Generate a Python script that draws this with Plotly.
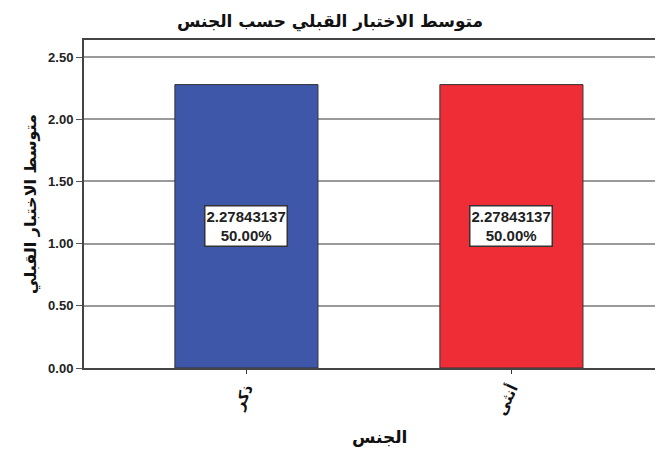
import plotly.graph_objects as go

categories = ["ذكر", "أنثى"]
means = [2.27843137, 2.27843137]
percents = [50.00, 50.00]
colors = ["#3F57A8", "#EE2D37"]

title_text = "متوسط الاختبار القبلي حسب الجنس"
x_title = "الجنس"
y_title = "متوسط الاختبار القبلي"
y_ticks = [0, 0.5, 1.0, 1.5, 2.0, 2.5]

FONT = "Arial, Liberation Sans, DejaVu Sans"
AR = "DejaVu Sans"

# page body has an 8px margin, so the figure is drawn 8px in from the corner
OFF = 8
PL, PT, PB, PR = 84, 40, 368, 663  # plot area in window pixels
W, H = 663 - OFF, 450 - OFF
pw, ph = PR - PL, PB - PT

fig = go.Figure()
fig.add_trace(go.Bar(
    x=[0, 1], y=means, width=0.54,
    marker=dict(color=colors, line=dict(color="#333333", width=1)),
    hoverinfo="skip",
))

for i, (m, p) in enumerate(zip(means, percents)):
    fig.add_annotation(
        x=i, y=m / 2, xref="x", yref="y",
        text=f"<b>{m:.8f}<br>{p:.2f}%</b>",
        showarrow=False,
        font=dict(family=FONT, size=15, color="#222222"),
        bgcolor="white", bordercolor="#333333", borderwidth=1.5,
        borderpad=1,
    )

fig.add_annotation(text=f"<b>{title_text}</b>", xref="paper", yref="paper",
                   x=(330 - PL) / pw, y=(PB - 22) / ph, xanchor="center", yanchor="middle",
                   showarrow=False, font=dict(family=AR, size=17, color="#111111"))
fig.add_annotation(text=f"<b>{x_title}</b>", xref="paper", yref="paper",
                   x=(379 - PL) / pw, y=-(437 - PB) / ph, xanchor="center", yanchor="middle",
                   showarrow=False, font=dict(family=AR, size=17, color="#111111"))
fig.add_annotation(text=f"<b>{y_title}</b>", xref="paper", yref="paper",
                   x=-(PL - 31) / pw, y=(PB - 204) / ph, xanchor="center", yanchor="middle",
                   textangle=-90,
                   showarrow=False, font=dict(family=AR, size=16, color="#111111"))

fig.update_layout(
    width=W, height=H,
    margin=dict(l=PL - OFF, r=0, t=PT - OFF, b=H - (PB - OFF), autoexpand=False),
    paper_bgcolor="white", plot_bgcolor="white",
    showlegend=False,
    xaxis=dict(
        range=[-0.613, 1.572], automargin=False,
        tickmode="array", tickvals=[0, 1], ticktext=[f"<b>{c}</b>" for c in categories],
        tickangle=-65,
        ticks="outside", ticklen=4, tickcolor="#333333",
        tickfont=dict(family=AR, size=15, color="#111111"),
        showgrid=False, zeroline=False,
        showline=True, linecolor="#444444", linewidth=1.5, mirror=True,
    ),
    yaxis=dict(
        range=[0, 2.637], automargin=False,
        tickmode="array", tickvals=y_ticks,
        ticktext=[f"<b>{v:.2f}</b>" for v in y_ticks],
        ticks="outside", ticklen=6, tickcolor="#555555",
        tickfont=dict(family=FONT, size=13, color="#222222"),
        showgrid=True, gridcolor="#9a9a9a", gridwidth=1.5,
        zeroline=False,
        showline=True, linecolor="#444444", linewidth=2,
    ),
)

fig.write_html("out.html")
